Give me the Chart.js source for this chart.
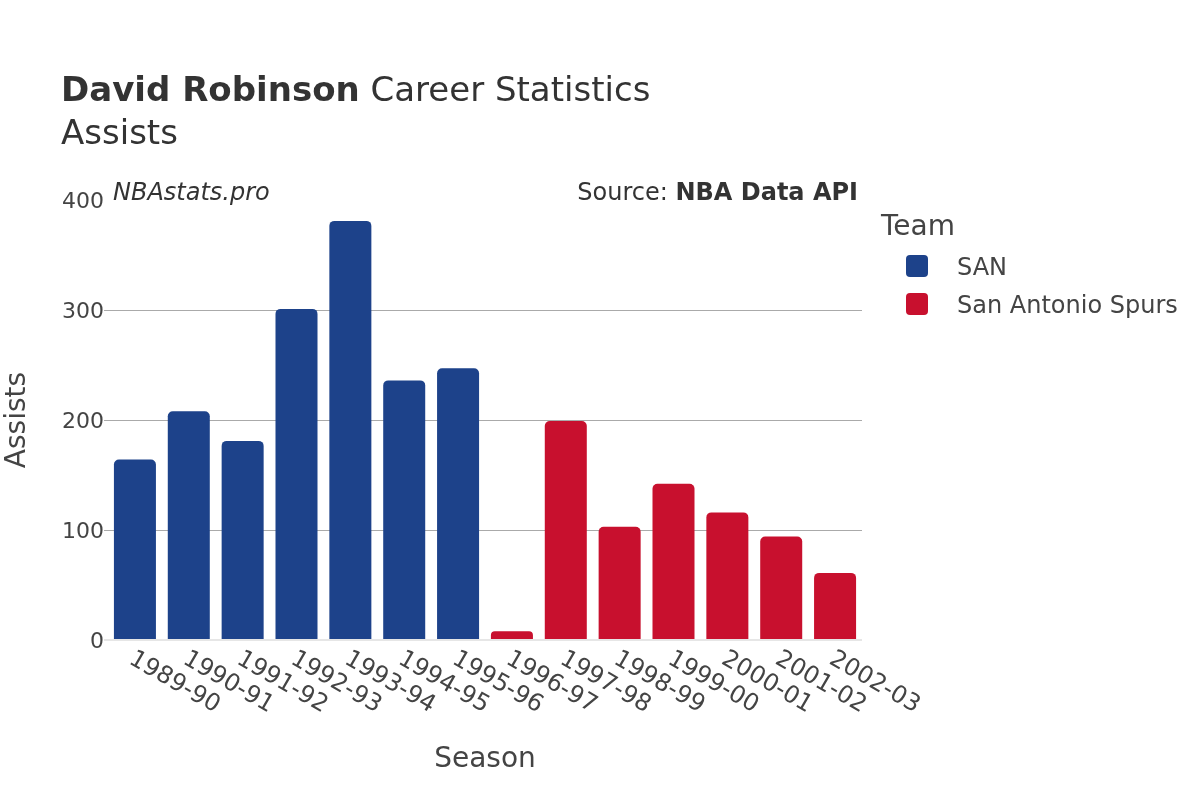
<!DOCTYPE html>
<html>
<head>
<meta charset="utf-8">
<script src="https://cdn.jsdelivr.net/npm/chart.js@4"></script>
<style>
  html, body { margin: 0; padding: 0; background: #fff; }
  #wrap { position: relative; width: 1200px; height: 800px; font-family: "DejaVu Sans", sans-serif; color: #444; }
  canvas { position: absolute; left: 0; top: 0; }
  .txt { position: absolute; line-height: 1; white-space: nowrap; }
  .box { position: absolute; width: 22px; height: 22px; border-radius: 4px; }
</style>
</head>
<body>
<div id="wrap">
  <canvas id="chart" width="1200" height="800"></canvas>
  <div class="txt" style="left:61px; top:72px; font-size:34px; color:#333;"><b>David Robinson</b> Career Statistics</div>
  <div class="txt" style="left:61px; top:115px; font-size:34px; color:#333;">Assists</div>
  <div class="txt" style="left:113px; top:180px; font-size:24px; font-style:italic; color:#333;">NBAstats.pro</div>
  <div class="txt" style="right:342px; top:180px; font-size:24px; color:#333;">Source: <b>NBA Data API</b></div>
  <div id="legend"></div>
</div>
<script>
// ===============================
// DATA
// ===============================
const seasons = ["1989-90", "1990-91", "1991-92", "1992-93", "1993-94", "1994-95", "1995-96",
  "1996-97", "1997-98", "1998-99", "1999-00", "2000-01", "2001-02", "2002-03"];
const sanAssists = [164, 208, 181, 301, 381, 236, 247, null, null, null, null, null, null, null];
const spursAssists = [null, null, null, null, null, null, null, 8, 199, 103, 142, 116, 94, 61];
const teamNames = ["SAN", "San Antonio Spurs"];
const teamColors = ["#1d428a", "#c8102e"];
const yTicks = [0, 100, 200, 300, 400];

// ===============================
// HTML LEGEND
// ===============================
function buildLegend() {
  const wrap = document.getElementById("legend");
  let html = '<div class="txt" style="left:881px; top:212px; font-size:28px; color:#444;">Team</div>';
  teamNames.forEach((name, i) => {
    const y = 255 + i * 38;
    html += '<div class="box" style="left:906px; top:' + y + 'px; background:' + teamColors[i] + ';"></div>';
    html += '<div class="txt" style="left:957px; top:' + y + 'px; font-size:24px; color:#444;">' + name + '</div>';
  });
  wrap.innerHTML = html;
}
buildLegend();

// ===============================
// ROTATED SEASON LABELS
// ===============================
const seasonLabels = {
  id: "seasonLabels",
  afterDraw(chart) {
    const ctx = chart.ctx;
    const xs = chart.scales.x;
    ctx.save();
    ctx.font = "24px 'DejaVu Sans'";
    ctx.fillStyle = "#444";
    ctx.textAlign = "left";
    ctx.textBaseline = "top";
    seasons.forEach((s, i) => {
      const x = xs.getPixelForValue(i);
      ctx.save();
      ctx.translate(x + 2, 647);
      ctx.rotate(Math.PI / 6);
      ctx.fillText(s, 0, 0);
      ctx.restore();
    });
    ctx.restore();
  }
};

Chart.defaults.font.family = "'DejaVu Sans', sans-serif";
Chart.defaults.color = "#444";

new Chart(document.getElementById("chart"), {
  type: "bar",
  data: {
    labels: seasons,
    datasets: [
      { label: teamNames[0], data: sanAssists, backgroundColor: teamColors[0], borderRadius: 5 },
      { label: teamNames[1], data: spursAssists, backgroundColor: teamColors[1], borderRadius: 5 }
    ]
  },
  options: {
    responsive: false,
    animation: false,
    layout: { padding: { top: 200, right: 338, left: 0, bottom: 0 } },
    datasets: { bar: { grouped: false, categoryPercentage: 1, barPercentage: 0.78 } },
    plugins: { legend: { display: false }, tooltip: { enabled: false } },
    scales: {
      x: {
        ticks: { display: false },
        grid: { display: false },
        border: { display: false },
        title: { display: true, text: "Season", font: { size: 28 }, color: "#444", padding: { top: 0, bottom: 23 } },
        afterFit(scale) { scale.height = 160; }
      },
      y: {
        min: 0,
        max: 400,
        afterBuildTicks(scale) { scale.ticks = yTicks.map(v => ({ value: v })); },
        ticks: { font: { size: 22 }, color: "#444", padding: 0, labelOffset: 2 },
        grid: {
          tickLength: 4,
          color: c => c.tick.value === 0 ? "#e6e6e6" : (c.tick.value === 400 ? "rgba(0,0,0,0)" : "#aaaaaa"),
          lineWidth: c => c.tick.value === 0 ? 2 : 1
        },
        border: { display: false },
        title: { display: true, text: "Assists", font: { size: 28 }, color: "#444", padding: { top: 1, bottom: 0 } },
        afterFit(scale) { scale.width = 108; }
      }
    }
  },
  plugins: [seasonLabels]
});
</script>
</body>
</html>
